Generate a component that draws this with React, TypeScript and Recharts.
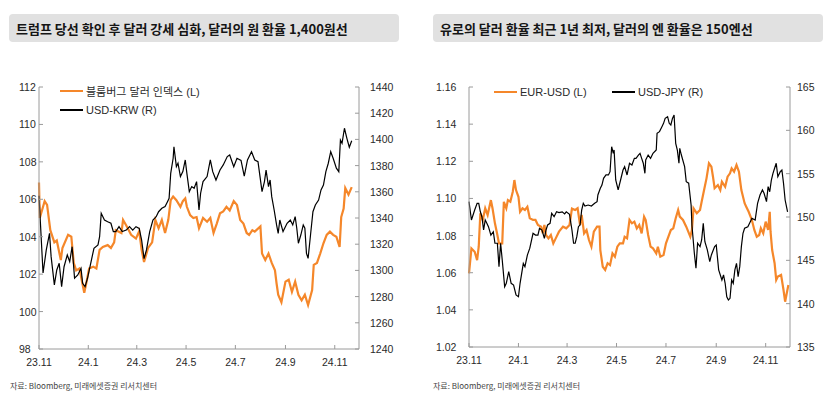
import { Line, LineChart, XAxis, YAxis } from "recharts";

// x values are days since 2023-11-01
const TICK_DAYS = [0, 61, 121, 182, 243, 305, 366];
const TICK_LABELS = ["23.11", "24.1", "24.3", "24.5", "24.7", "24.9", "24.11"];

const DXY_TICKS = [98, 100, 102, 104, 106, 108, 110, 112];
const KRW_TICKS = [1240, 1260, 1280, 1300, 1320, 1340, 1360, 1380, 1400, 1420, 1440];
const EUR_TICKS = [1.02, 1.04, 1.06, 1.08, 1.1, 1.12, 1.14, 1.16];
const JPY_TICKS = [135, 140, 145, 150, 155, 160, 165];

const LEFT_TITLE = "트럼프 당선 확인 후 달러 강세 심화, 달러의 원 환율 1,400원선";
const RIGHT_TITLE = "유로의 달러 환율 최근 1년 최저, 달러의 엔 환율은 150엔선";
const SOURCE = "자료: Bloomberg, 미래에셋증권 리서치센터";

// [day, value]
const DXY = [
  [0, 106.9], [1, 105.0], [7, 105.9], [10, 105.7], [14, 104.35], [19, 103.7], [22, 103.8], [27, 102.75],
  [29, 103.4], [36, 104.1], [40, 104.0], [43, 102.6], [46, 102.2], [50, 102.3], [56, 101.0], [58, 101.4],
  [62, 102.3], [67, 102.4], [71, 102.3], [75, 103.3], [79, 103.45], [85, 103.55], [89, 103.4], [93, 103.7],
  [95, 104.35], [102, 104.2], [104, 104.9], [108, 104.6], [114, 104.1], [120, 103.9], [124, 104.3], [127, 103.3],
  [130, 102.65], [135, 103.4], [140, 103.7], [144, 104.9], [148, 104.45], [152, 104.9], [156, 104.2], [160, 104.9],
  [163, 105.95], [166, 106.15], [170, 105.95], [175, 105.6], [178, 105.9], [181, 106.05], [183, 105.6], [187, 105.15],
  [191, 105.0], [195, 105.05], [198, 104.45], [203, 105.0], [208, 104.8], [212, 105.0], [216, 104.2], [220, 104.7],
  [224, 105.25], [228, 105.35], [232, 105.6], [236, 105.4], [241, 105.9], [245, 105.7], [249, 104.9], [253, 104.7],
  [257, 104.2], [260, 104.1], [264, 104.35], [267, 104.27], [274, 104.55], [276, 103.1], [280, 102.75], [284, 103.1],
  [288, 102.6], [292, 102.2], [294, 101.5], [296, 100.9], [300, 100.5], [305, 101.6], [309, 101.7], [313, 101.05],
  [317, 101.6], [321, 100.9], [325, 100.6], [329, 100.9], [333, 100.35], [338, 101.15], [340, 102.5], [344, 102.6],
  [348, 103.1], [352, 103.65], [356, 104.1], [360, 104.27], [364, 104.1], [368, 104.0], [372, 103.45], [374, 105.05],
  [377, 105.5], [379, 106.6], [383, 106.25], [387, 106.65],
];

const USDKRW = [
  [0, 1357], [5, 1298], [9, 1315.6], [13, 1328.3], [15, 1310.5], [19, 1288.9], [22, 1300.3], [25, 1305.4],
  [28, 1287.6], [31, 1302.8], [35, 1311.8], [38, 1306.7], [41, 1318.1], [44, 1294], [48, 1296.5], [52, 1301.6],
  [54, 1290.2], [57, 1287.6], [60, 1294], [64, 1305.4], [68, 1316.9], [73, 1319.4], [75, 1325.7], [77, 1343.6],
  [81, 1338.5], [85, 1337.2], [89, 1336], [92, 1329.6], [95, 1329.6], [99, 1333.4], [103, 1329.6], [108, 1330.8],
  [112, 1333.4], [116, 1330.8], [120, 1333.4], [124, 1332], [127, 1323.2], [130, 1309], [133, 1315.6], [137, 1329.6],
  [141, 1338.5], [145, 1341], [148, 1344.8], [152, 1347.4], [156, 1348.7], [159, 1352.4], [161, 1355], [163, 1374.1],
  [166, 1385.6], [167, 1394.4], [170, 1379.2], [172, 1381.8], [175, 1371.6], [178, 1375.4], [181, 1384.3], [183, 1374.1],
  [186, 1360.1], [189, 1364], [192, 1362.7], [195, 1367.8], [198, 1346.2], [200, 1358.9], [203, 1367.8], [208, 1371.6],
  [212, 1384.3], [215, 1375.4], [219, 1369], [224, 1376.6], [228, 1380.5], [233, 1386.9], [236, 1388.1], [241, 1379.2],
  [245, 1385.6], [250, 1384], [254, 1372], [258, 1384.3], [263, 1390.6], [267, 1384.3], [271, 1383], [276, 1360.1],
  [279, 1367.8], [281, 1376.6], [284, 1364], [286, 1369], [288, 1356.3], [291, 1346.1], [294, 1334.7], [296, 1328.3],
  [298, 1338.5], [302, 1329.6], [307, 1336], [311, 1338.5], [314, 1334.7], [317, 1341], [319, 1332.2], [321, 1320.7],
  [324, 1327], [327, 1334.7], [329, 1332.2], [331, 1313], [333, 1309.2], [336, 1327], [339, 1344.8], [342, 1349.9],
  [346, 1353.7], [349, 1361.4], [352, 1365.2], [355, 1375.4], [358, 1381.8], [361, 1390.6], [364, 1385.6], [368, 1378],
  [371, 1375.4], [373, 1399.5], [375, 1397], [378, 1408.5], [381, 1400.8], [384, 1394], [387, 1399],
];

const EURUSD = [
  [0, 1.0597], [3, 1.0731], [7, 1.0713], [10, 1.0668], [12, 1.074], [14, 1.092], [17, 1.0884], [20, 1.0947],
  [23, 1.0911], [27, 1.0991], [29, 1.0947], [32, 1.0866], [35, 1.0803], [37, 1.0758], [41, 1.0758], [43, 1.0982],
  [46, 1.0947], [48, 1.0991], [51, 1.0982], [54, 1.1036], [56, 1.1099], [58, 1.1045], [61, 1.1009], [63, 1.0928],
  [66, 1.0947], [69, 1.0938], [72, 1.0955], [75, 1.0893], [79, 1.0884], [82, 1.0884], [85, 1.0857], [89, 1.0848],
  [91, 1.0812], [93, 1.0857], [95, 1.0803], [98, 1.0785], [101, 1.0803], [104, 1.0758], [107, 1.0785], [111, 1.0821],
  [116, 1.0848], [120, 1.0839], [124, 1.0857], [127, 1.0945], [131, 1.0938], [134, 1.0947], [137, 1.0857], [139, 1.0911],
  [142, 1.0812], [145, 1.083], [148, 1.0776], [151, 1.074], [154, 1.0821], [158, 1.0848], [161, 1.0848], [162, 1.0722],
  [165, 1.0632], [168, 1.0615], [171, 1.0651], [174, 1.0641], [177, 1.0704], [180, 1.0686], [183, 1.074], [186, 1.0758],
  [190, 1.0758], [192, 1.0794], [195, 1.0785], [198, 1.0884], [201, 1.0866], [204, 1.0875], [207, 1.0839], [210, 1.0857],
  [213, 1.0812], [216, 1.0902], [218, 1.0884], [221, 1.0803], [224, 1.074], [227, 1.0731], [231, 1.0704], [233, 1.074],
  [236, 1.0686], [240, 1.0695], [243, 1.0758], [246, 1.0794], [249, 1.083], [252, 1.0839], [255, 1.0893], [258, 1.0938],
  [260, 1.0902], [264, 1.0884], [268, 1.0848], [273, 1.0794], [275, 1.083], [277, 1.0947], [281, 1.092], [285, 1.0938],
  [287, 1.0982], [290, 1.1045], [293, 1.1108], [296, 1.1189], [299, 1.1171], [301, 1.1117], [303, 1.1055], [307, 1.1072],
  [310, 1.1045], [312, 1.109], [316, 1.1063], [319, 1.1117], [322, 1.1135], [324, 1.1162], [327, 1.1144], [330, 1.118],
  [333, 1.1144], [336, 1.1045], [340, 1.0974], [342, 1.0955], [345, 1.0928], [349, 1.0884], [352, 1.083], [355, 1.0794],
  [358, 1.0803], [360, 1.0839], [363, 1.0812], [366, 1.0875], [369, 1.083], [371, 1.0928], [372, 1.0821], [374, 1.0722],
  [377, 1.0651], [379, 1.0561], [381, 1.0579], [385, 1.0588], [388, 1.0507], [390, 1.0444], [392, 1.0489], [394, 1.0534],
];

const USDJPY = [
  [0, 151.77], [3, 149.65], [7, 150.8], [10, 151.58], [12, 151.58], [14, 150.6], [16, 150.0], [18, 148.5],
  [20, 149.65], [22, 149.27], [24, 148.88], [27, 147.9], [30, 148.3], [32, 146.97], [35, 146.97], [37, 144.27],
  [39, 146.97], [41, 145.04], [44, 141.96], [46, 142.35], [49, 143.7], [52, 142.35], [55, 142.15], [58, 141.0],
  [61, 140.8], [63, 142.35], [65, 143.5], [67, 144.65], [69, 144.27], [72, 145.6], [75, 146.4], [79, 148.12],
  [82, 147.92], [85, 147.92], [87, 148.7], [90, 148.5], [93, 147.54], [95, 148.5], [97, 149.08], [100, 149.27],
  [102, 150.42], [105, 150.04], [108, 150.6], [111, 150.5], [115, 150.6], [118, 150.35], [120, 150.6], [124, 150.3],
  [127, 148.5], [129, 146.97], [131, 146.97], [133, 147.73], [135, 148.88], [137, 149.08], [139, 150.8], [141, 151.58],
  [143, 151.27], [147, 151.38], [151, 151.27], [155, 151.58], [158, 151.77], [159, 152.54], [162, 153.31], [164, 153.69],
  [166, 154.46], [169, 154.85], [172, 154.85], [174, 155.23], [176, 158.11], [178, 157.35], [179, 157.73], [181, 154.27],
  [184, 153.12], [187, 154.27], [190, 155.42], [192, 155.81], [195, 154.85], [198, 156.2], [201, 156.0], [204, 156.77],
  [206, 156.77], [209, 157.15], [211, 157.35], [213, 156.77], [215, 156.2], [217, 155.04], [218, 156.58], [221, 157.15],
  [224, 156.77], [227, 157.35], [231, 157.73], [232, 159.65], [235, 159.85], [238, 160.42], [240, 160.81], [242, 161.38],
  [245, 161.57], [247, 160.81], [249, 160.62], [251, 161.38], [253, 161.77], [255, 158.5], [257, 157.73], [259, 156.2],
  [260, 157.93], [262, 157.15], [266, 155.81], [268, 154.08], [271, 153.9], [274, 151.38], [275, 149.08], [278, 145.81],
  [280, 144.08], [282, 146.97], [285, 146.58], [287, 147.35], [289, 149.27], [291, 147.15], [294, 146.2], [297, 144.85],
  [299, 145.62], [303, 146.58], [305, 146.77], [308, 143.9], [312, 142.73], [314, 143.31], [316, 142.35], [318, 140.8],
  [320, 140.42], [322, 140.62], [324, 142.73], [326, 142.35], [328, 143.9], [330, 144.65], [332, 143.12], [334, 144.27],
  [336, 146.58], [338, 148.12], [340, 148.7], [344, 148.88], [347, 149.46], [349, 149.85], [353, 149.65], [356, 151.58],
  [359, 152.54], [362, 153.12], [364, 152.73], [367, 151.77], [369, 153.5], [371, 152.92], [373, 154.27], [375, 155.04],
  [377, 155.62], [379, 156.2], [381, 154.65], [384, 155.23], [386, 155.42], [388, 153.9], [390, 151.96], [393, 150.6],
];

const ORANGE = "#F5872A";
const AXIS = "#9a9a9a";
const INK = "#2a2a2a";
const FONT = '"Liberation Sans", Arial, "Noto Sans CJK KR", sans-serif';
const KFONT = '"Noto Sans CJK KR", "Liberation Sans", sans-serif';

const toRows = (pairs: number[][]) => pairs.map(([d, v]) => ({ d, v }));

const xTick = (props: any) => {
  const { x, y, payload } = props;
  return (
    <g>
      <line x1={x} y1={y} x2={x} y2={y - 4} stroke={AXIS} />
      <text x={x} y={y + 17} textAnchor="middle" fill={INK} fontSize={10.5} fontFamily={FONT}>
        {TICK_LABELS[TICK_DAYS.indexOf(payload.value)]}
      </text>
    </g>
  );
};

const yTick =
  (inward: number, labelDx: number, fmt: (v: number) => string) => (props: any) => {
    const { x, y, payload } = props;
    return (
      <g>
        <line x1={x} y1={y} x2={x + inward} y2={y} stroke={AXIS} />
        <text x={x + labelDx} y={y + 4} textAnchor="start" fill={INK} fontSize={10.5} fontFamily={FONT}>
          {fmt(payload.value)}
        </text>
      </g>
    );
  };

const LegendItem = ({ left, top, color, thick, label }: any) => (
  <div
    style={{
      position: "absolute",
      left,
      top: top - 7,
      height: 14,
      display: "flex",
      alignItems: "center",
      fontSize: 11,
      fontFamily: FONT,
      color: INK,
      whiteSpace: "nowrap",
    }}
  >
    <span style={{ display: "inline-block", width: 23, height: thick, background: color, marginRight: 3 }} />
    {label}
  </div>
);

const TitleBar = ({ left, text }: any) => (
  <div
    style={{
      position: "absolute",
      left,
      top: 14,
      width: 390,
      height: 28,
      background: "#e1e1e1",
      borderRadius: 4,
      display: "flex",
      alignItems: "center",
      paddingLeft: 7,
      boxSizing: "border-box",
      fontFamily: KFONT,
      fontWeight: 700,
      fontSize: 13,
      color: "#151515",
      whiteSpace: "nowrap",
    }}
  >
    {text}
  </div>
);

const Source = ({ left }: any) => (
  <div
    style={{
      position: "absolute",
      left,
      top: 380,
      fontSize: 8,
      lineHeight: "11px",
      fontFamily: KFONT,
      color: "#444",
      whiteSpace: "nowrap",
    }}
  >
    {SOURCE}
  </div>
);

const DollarKrwChart = () => (
  <LineChart width={420} height={397} margin={{ top: 87, right: 0, bottom: 0, left: 0 }}>
    <XAxis
      dataKey="d"
      type="number"
      domain={[0, 396]}
      ticks={TICK_DAYS}
      interval={0}
      height={48}
      tickSize={0}
      tickMargin={0}
      axisLine={{ stroke: AXIS }}
      tick={xTick}
    />
    <YAxis
      yAxisId="L"
      domain={[98, 112]}
      ticks={DXY_TICKS}
      interval={0}
      width={39}
      tickSize={0}
      tickMargin={0}
      axisLine={{ stroke: AXIS }}
      tick={yTick(4, -20, (v) => String(v))}
    />
    <YAxis
      yAxisId="R"
      orientation="right"
      domain={[1240, 1440]}
      ticks={KRW_TICKS}
      interval={0}
      width={61}
      tickSize={0}
      tickMargin={0}
      axisLine={{ stroke: AXIS }}
      tick={yTick(-4, 11, (v) => String(v))}
    />
    <Line yAxisId="L" data={toRows(DXY)} dataKey="v" type="linear" stroke={ORANGE} strokeWidth={2.2} dot={false} isAnimationActive={false} />
    <Line yAxisId="R" data={toRows(USDKRW)} dataKey="v" type="linear" stroke="#000" strokeWidth={1.2} dot={false} isAnimationActive={false} />
  </LineChart>
);

const EurJpyChart = () => (
  <LineChart width={417} height={397} margin={{ top: 87, right: 0, bottom: 0, left: 0 }}>
    <XAxis
      dataKey="d"
      type="number"
      domain={[0, 396]}
      ticks={TICK_DAYS}
      interval={0}
      height={50}
      tickSize={0}
      tickMargin={0}
      axisLine={{ stroke: AXIS }}
      tick={xTick}
    />
    <YAxis
      yAxisId="L"
      domain={[1.02, 1.16]}
      ticks={EUR_TICKS}
      interval={0}
      width={49}
      tickSize={0}
      tickMargin={0}
      axisLine={{ stroke: AXIS }}
      tick={yTick(4, -33, (v) => v.toFixed(2))}
    />
    <YAxis
      yAxisId="R"
      orientation="right"
      domain={[135, 165]}
      ticks={JPY_TICKS}
      interval={0}
      width={47}
      tickSize={0}
      tickMargin={0}
      axisLine={{ stroke: AXIS }}
      tick={yTick(-4, 7, (v) => String(v))}
    />
    <Line yAxisId="L" data={toRows(EURUSD)} dataKey="v" type="linear" stroke={ORANGE} strokeWidth={2.2} dot={false} isAnimationActive={false} />
    <Line yAxisId="R" data={toRows(USDJPY)} dataKey="v" type="linear" stroke="#000" strokeWidth={1.2} dot={false} isAnimationActive={false} />
  </LineChart>
);

export default function App() {
  return (
    <div style={{ position: "absolute", left: 0, top: 0, width: 837, height: 397, background: "#fff", overflow: "hidden" }}>
      <div style={{ position: "absolute", left: 0, top: 0 }}>
        <DollarKrwChart />
      </div>
      <div style={{ position: "absolute", left: 420, top: 0 }}>
        <EurJpyChart />
      </div>
      <TitleBar left={9} text={LEFT_TITLE} />
      <TitleBar left={433} text={RIGHT_TITLE} />
      <LegendItem left={60} top={91} color={ORANGE} thick={2.5} label="블룸버그 달러 인덱스 (L)" />
      <LegendItem left={60} top={110} color="#000" thick={1.5} label="USD-KRW (R)" />
      <LegendItem left={494} top={92} color={ORANGE} thick={2.5} label="EUR-USD (L)" />
      <LegendItem left={612} top={92} color="#000" thick={1.5} label="USD-JPY (R)" />
      <Source left={10} />
      <Source left={433} />
    </div>
  );
}
